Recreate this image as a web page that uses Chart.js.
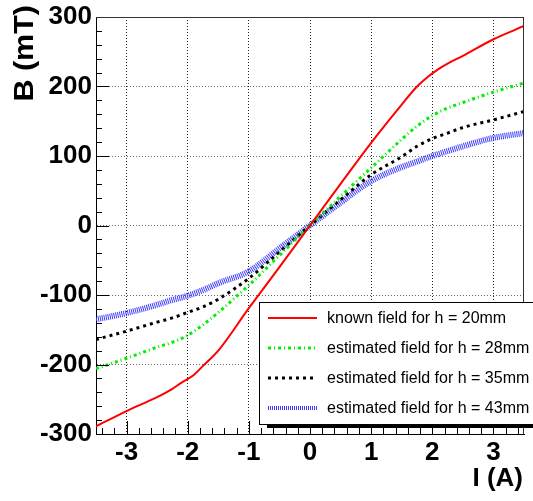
<!DOCTYPE html>
<html>
<head>
<meta charset="utf-8">
<script src="https://cdn.jsdelivr.net/npm/chart.js@4.4.1/dist/chart.umd.min.js"></script>
<style>
  html, body { margin: 0; padding: 0; background: #fff; }
  #wrap { width: 533px; height: 501px; }
</style>
</head>
<body>
<div id="wrap"><canvas id="chart" width="533" height="501"></canvas></div>
<script>
// coil current (A) for the estimated curves
const currents = [-3.5, -3, -2.5, -2.25, -2, -1.75, -1.5, -1, -0.5, 0, 0.5, 1, 1.5, 1.75, 2, 2.25, 2.5, 3, 3.5];
// measured curve, extra points around the knee
const currentsKnown = [-3.5, -3, -2.5, -2.25, -2.1, -1.9, -1.75, -1.5, -1, -0.5, 0, 0.5, 1, 1.5, 1.75, 1.9, 2.1, 2.25, 2.5, 3, 3.5];

// field in mT
const fieldH20 = [-289, -267, -247, -235, -226, -215, -202, -180, -119, -60, 0, 60, 119, 174, 200, 212, 225, 233, 244, 268, 287];
const fieldH28 = [-206, -191, -175, -168, -158, -143, -125, -86, -43, 0, 42, 83, 124, 143, 158, 169, 177, 192, 205];
const fieldH35 = [-164, -152, -139, -133, -125, -117, -106, -76, -38, 0, 37, 73, 99, 114, 125, 133, 141, 152, 164];
const fieldH43 = [-135, -126, -114, -107, -101, -93, -83, -66, -33, 0, 33, 64, 84, 92, 100, 107, 114, 126, 133];

const seriesLabels = [
  "known field for h = 20mm",
  "estimated field for h = 28mm",
  "estimated field for h = 35mm",
  "estimated field for h = 43mm"
];

const xTickValues = [-3, -2, -1, 0, 1, 2, 3];
const yTickValues = [-300, -200, -100, 0, 100, 200, 300];
const xTitle = "I (A)";
const yTitle = "B (mT)";

const toPoints = (xs, ys) => xs.map((x, i) => ({ x: x, y: ys[i] }));

const tickFont = { family: "'Liberation Sans', Arial, sans-serif", size: 26, weight: "bold", lineHeight: 1 };

// inside ticks + top/right frame, ROOT style
const frameTicks = {
  id: "frameTicks",
  afterDatasetsDraw(chart) {
    const { ctx, chartArea: a, scales: { x, y } } = chart;
    ctx.save();
    ctx.strokeStyle = "#000";
    ctx.lineWidth = 1;
    ctx.beginPath();
    for (let k = -15; k <= 15; k++) {
      const py = Math.round(y.getPixelForValue(k * 20)) + 0.5;
      const len = k % 5 === 0 ? 13 : 6;
      ctx.moveTo(a.left, py);
      ctx.lineTo(a.left + len, py);
    }
    for (let k = -17; k <= 17; k++) {
      const px = Math.round(x.getPixelForValue(k / 5)) + 0.5;
      const len = k % 5 === 0 ? 13 : 6;
      ctx.moveTo(px, a.bottom);
      ctx.lineTo(px, a.bottom - len);
    }
    ctx.stroke();

    ctx.strokeStyle = "#333";
    ctx.beginPath();
    ctx.moveTo(a.left, a.top + 0.5);
    ctx.lineTo(a.right, a.top + 0.5);
    ctx.moveTo(a.right - 0.5, a.top);
    ctx.lineTo(a.right - 0.5, a.bottom);
    ctx.stroke();
    ctx.restore();
  }
};

// legend box with shadow, plus the axis titles
const boxLegend = {
  id: "boxLegend",
  afterDraw(chart) {
    const ctx = chart.ctx;
    const box = { left: 259, top: 302, width: 300, height: 122 };
    ctx.save();
    ctx.fillStyle = "#000";
    ctx.fillRect(box.left + 8, box.top + 4, box.width, box.height);
    ctx.fillStyle = "#fff";
    ctx.fillRect(box.left, box.top, box.width, box.height);
    ctx.strokeStyle = "#000";
    ctx.lineWidth = 1;
    ctx.strokeRect(box.left + 0.5, box.top + 0.5, box.width, box.height);

    ctx.font = "16px 'Liberation Sans', Arial, sans-serif";
    ctx.textBaseline = "middle";
    ctx.textAlign = "left";
    chart.data.datasets.forEach((ds, i) => {
      const yy = 318 + i * 30;
      ctx.save();
      ctx.strokeStyle = ds.borderColor;
      ctx.lineWidth = ds.legendWidth || ds.borderWidth;
      ctx.setLineDash(ds.borderDash || []);
      ctx.beginPath();
      ctx.moveTo(268, yy);
      ctx.lineTo(317, yy);
      ctx.stroke();
      ctx.restore();
      ctx.fillStyle = "#000";
      ctx.fillText(ds.label, 327, yy + 1);
    });

    ctx.font = "bold 26px 'Liberation Sans', Arial, sans-serif";
    ctx.fillStyle = "#000";
    ctx.textBaseline = "alphabetic";
    ctx.textAlign = "right";
    ctx.fillText(xTitle, 523, 486);
    ctx.translate(33, 5);
    ctx.rotate(-Math.PI / 2);
    ctx.scale(1.13, 1);
    ctx.font = "bold 27px 'Liberation Sans', Arial, sans-serif";
    ctx.fillText(yTitle, 0, 0);
    ctx.restore();
  }
};

new Chart(document.getElementById("chart"), {
  type: "scatter",
  data: {
    datasets: [
      {
        label: seriesLabels[0],
        data: toPoints(currentsKnown, fieldH20),
        borderColor: "#ff0000",
        borderWidth: 2
      },
      {
        label: seriesLabels[1],
        data: toPoints(currents, fieldH28),
        borderColor: "#00ee00",
        borderWidth: 3,
        borderDash: [3, 3, 1, 3]
      },
      {
        label: seriesLabels[2],
        data: toPoints(currents, fieldH35),
        borderColor: "#000000",
        borderWidth: 3,
        borderDash: [3, 4]
      },
      {
        label: seriesLabels[3],
        data: toPoints(currents, fieldH43),
        borderColor: "#3c3cff",
        borderWidth: 6,
        legendWidth: 4,
        borderDash: [1, 1]
      }
    ].map(ds => Object.assign(ds, {
      showLine: true,
      pointRadius: 0,
      fill: false,
      cubicInterpolationMode: "monotone"
    }))
  },
  options: {
    responsive: false,
    animation: false,
    layout: { padding: { top: 15, right: 9, left: 0, bottom: 0 } },
    plugins: {
      legend: { display: false },
      tooltip: { enabled: false }
    },
    scales: {
      x: {
        type: "linear",
        min: -3.5,
        max: 3.5,
        afterBuildTicks: s => { s.ticks = xTickValues.map(v => ({ value: v })); },
        afterFit: s => { s.height = 67; },
        grid: { color: "#222", drawTicks: false },
        border: { display: true, color: "#000", width: 1, dash: [1, 2] },
        ticks: { font: tickFont, color: "#000", padding: 6, maxRotation: 0 }
      },
      y: {
        type: "linear",
        min: -300,
        max: 300,
        afterBuildTicks: s => { s.ticks = yTickValues.map(v => ({ value: v })); },
        afterFit: s => { s.width = 96; },
        grid: { color: "#666", drawTicks: false },
        border: { display: true, color: "#000", width: 1, dash: [1, 2] },
        ticks: { font: tickFont, color: "#000", padding: 4 }
      }
    }
  },
  plugins: [frameTicks, boxLegend]
});
</script>
</body>
</html>
